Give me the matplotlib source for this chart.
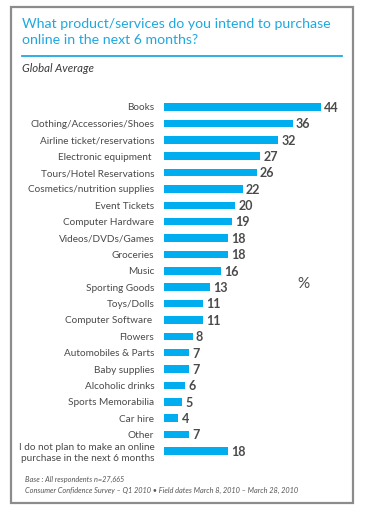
import matplotlib
matplotlib.use("Agg")
from matplotlib import pyplot as plt
from matplotlib.patches import Rectangle
from matplotlib.lines import Line2D

categories = [
    "Books",
    "Clothing/Accessories/Shoes",
    "Airline ticket/reservations",
    "Electronic equipment ",
    "Tours/Hotel Reservations",
    "Cosmetics/nutrition supplies",
    "Event Tickets",
    "Computer Hardware",
    "Videos/DVDs/Games",
    "Groceries",
    "Music",
    "Sporting Goods",
    "Toys/Dolls",
    "Computer Software ",
    "Flowers",
    "Automobiles & Parts",
    "Baby supplies",
    "Alcoholic drinks",
    "Sports Memorabilia",
    "Car hire",
    "Other",
    "I do not plan to make an online\npurchase in the next 6 months",
]
values = [44, 36, 32, 27, 26, 22, 20, 19, 18, 18, 16, 13, 11, 11, 8, 7, 7, 6, 5, 4, 7, 18]

title = "What product/services do you intend to purchase\nonline in the next 6 months?"
subtitle = "Global Average"
notes = [
    "Base : All respondents n=27,665",
    "Consumer Confidence Survey \u2013 Q1 2010 \u2022 Field dates March 8, 2010 \u2013 March 28, 2010",
]

W, H = 370, 520
blue = "#00aeef"
title_blue = "#1fa8e0"
text_grey = "#4a4a4a"

plt.rcParams["font.family"] = ["Lato", "DejaVu Sans"]

fig = plt.figure(figsize=(W / 100, H / 100), dpi=100)
fig.set_facecolor("white")

# outer grey frame
fig.add_artist(Rectangle((11 / W, 1 - 503 / H), (353 - 11) / W, (503 - 7) / H,
                         transform=fig.transFigure, fill=False,
                         edgecolor="#8c8c8c", linewidth=1.6))

# title + blue rule + subtitle
fig.text(22 / W, 1 - 18 / H, title, color=title_blue, fontsize=10.2,
         va="top", ha="left", linespacing=1.38)
fig.add_artist(Line2D([22 / W, 342 / W], [1 - 56 / H, 1 - 56 / H],
                      transform=fig.transFigure, color=title_blue, linewidth=1.3))
fig.text(22 / W, 1 - 68 / H, subtitle, color="#3a3a3a", fontsize=8.2,
         style="italic", va="center", ha="left")

# bar axes: row centres from y=107 to y=451 px, x scale 44 -> 321 px
row = (451 - 107) / (len(categories) - 1)
ax_top = 107 - row / 2
ax_h = row * len(categories)
ax = fig.add_axes([164 / W, 1 - (ax_top + ax_h) / H, 178.5 / W, ax_h / H])
ax.set_xlim(0, 50)
ax.set_ylim(len(categories) - 0.5, -0.5)

ypos = list(range(len(categories)))
ax.barh(ypos, values, height=0.46, color=blue, left=0)

for y, v in zip(ypos, values):
    ax.text(v + 0.9, y + 0.05, str(v), va="center", ha="left",
            fontsize=9, color=text_grey, fontweight="bold")

ax.set_yticks(ypos)
ax.set_yticklabels(categories, fontsize=7.2, color=text_grey,
                   linespacing=1.3, ha="right")
ax.tick_params(axis="y", length=0, pad=7)
ax.set_xticks([])
for s in ax.spines.values():
    s.set_visible(False)
ax.set_facecolor((0, 0, 0, 0))

fig.text(303 / W, 1 - 284 / H, "%", fontsize=11, color=text_grey,
         ha="center", va="center")

fig.text(25 / W, 1 - 479 / H, notes[0], fontsize=5.3, style="italic",
         color="#555555", va="center", ha="left")
fig.text(25 / W, 1 - 490 / H, notes[1], fontsize=5.3, style="italic",
         color="#555555", va="center", ha="left")

fig.savefig("out.png", dpi=100, facecolor="white")
